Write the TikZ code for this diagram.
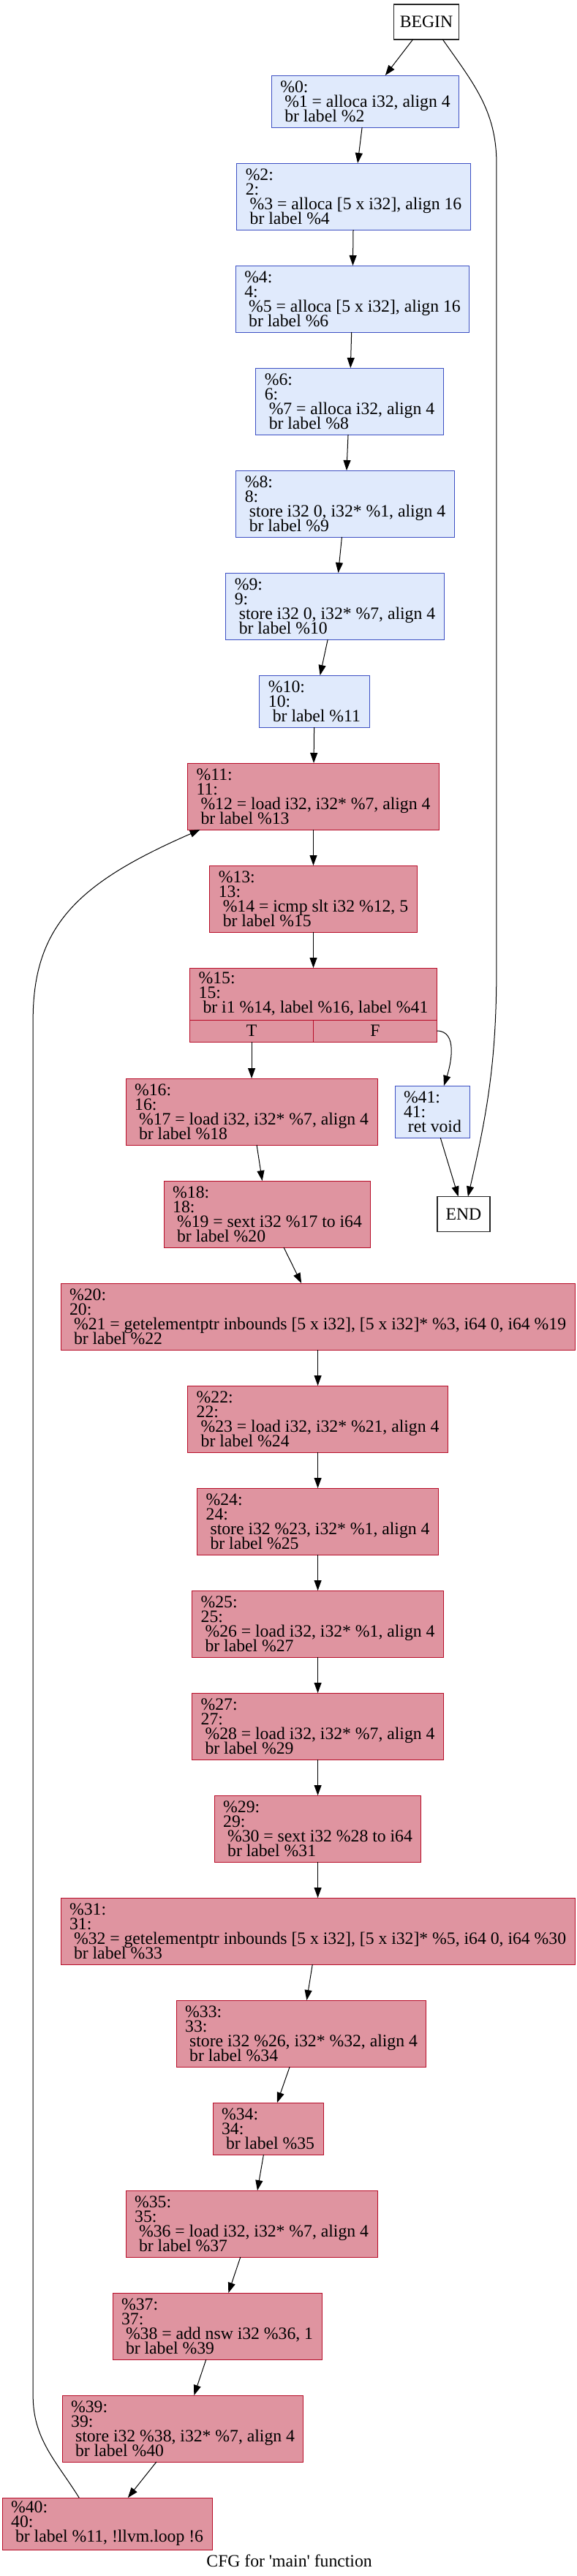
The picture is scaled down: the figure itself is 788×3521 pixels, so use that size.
\documentclass[tikz,border=0pt]{standalone}
\usepackage{fontspec}
\setmainfont{Liberation Serif}
\usetikzlibrary{arrows.meta, calc, positioning}
\definecolor{coldfill}{HTML}{E0EAFC}
\definecolor{coldline}{HTML}{3D50C3}
\definecolor{hotfill}{HTML}{DF94A0}
\definecolor{hotline}{HTML}{B70D28}
\newcommand{\cfgfont}{\fontsize{23.68pt}{20pt}\selectfont\lineskiplimit=-30pt\relax}
\tikzstyle{cold_block}=[rectangle, draw=coldline, fill=coldfill, line width=1pt, align=left,
   inner xsep=12pt, inner ysep=0pt, outer sep=0pt, font=\cfgfont]
\tikzstyle{hot_block}=[rectangle, draw=hotline, fill=hotfill, line width=1pt, align=left,
   inner xsep=12pt, inner ysep=0pt, outer sep=0pt, font=\cfgfont]
\tikzstyle{three_lines}=[minimum height=71pt]
\tikzstyle{four_lines}=[minimum height=91pt]
\tikzstyle{terminal}=[rectangle, draw=black!85, line width=1.2pt, fill=white, inner xsep=8pt,
   outer sep=0pt, minimum width=72pt, minimum height=48pt, font=\cfgfont]
\tikzstyle{cfg_edge}=[-{Triangle[length=14pt, width=10pt]}, line width=1pt]
\tikzstyle{caption_text}=[inner sep=0pt, font=\cfgfont]

\begin{document}
\begin{tikzpicture}[x=1pt, y=1pt]
\useasboundingbox (0,0) rectangle (788,-3521);

% entry
\node [terminal] (cfg_begin) at (583,-30) {BEGIN};

% cold blocks before the loop
\node [cold_block, three_lines] (bb_0)  [below=49pt of cfg_begin, xshift=-83.5pt]
    {\%0:\\~\%1 = alloca i32, align 4\\~br label \%2};
\node [cold_block, four_lines]  (bb_2)  [below=49pt of bb_0, xshift=-16pt]
    {\%2:\\2:\\~\%3 = alloca [5 x i32], align 16\\~br label \%4};
\node [cold_block, four_lines]  (bb_4)  [below=49pt of bb_2, xshift=-1.5pt]
    {\%4:\\4:\\~\%5 = alloca [5 x i32], align 16\\~br label \%6};
\node [cold_block, four_lines]  (bb_6)  [below=49pt of bb_4, xshift=-4pt]
    {\%6:\\6:\\~\%7 = alloca i32, align 4\\~br label \%8};
\node [cold_block, four_lines]  (bb_8)  [below=49pt of bb_6, xshift=-6pt]
    {\%8:\\8:\\~store i32 0, i32* \%1, align 4\\~br label \%9};
\node [cold_block, four_lines]  (bb_9)  [below=49pt of bb_8, xshift=-14pt]
    {\%9:\\9:\\~store i32 0, i32* \%7, align 4\\~br label \%10};
\node [cold_block, three_lines] (bb_10) [below=49pt of bb_9, xshift=-28pt]
    {\%10:\\10:\\~br label \%11};

% loop header
\node [hot_block, four_lines]   (bb_11) [below=49pt of bb_10, xshift=-1.5pt]
    {\%11:\\11:\\~\%12 = load i32, i32* \%7, align 4\\~br label \%13};
\node [hot_block, four_lines]   (bb_13) [below=49pt of bb_11]
    {\%13:\\13:\\~\%14 = icmp slt i32 \%12, 5\\~br label \%15};
\node [hot_block, three_lines]  (bb_15) [below=49pt of bb_13]
    {\%15:\\15:\\~br i1 \%14, label \%16, label \%41};

\path let
    \p1 = (bb_15.west),
    \p2 = (bb_15.east),
    \n1 = {(\x2-\x1)/2} in
    node [hot_block, minimum width=\n1, minimum height=30pt, inner sep=0pt] (bb_15_t)
         [below=0pt of bb_15.south west, anchor=north west] {T}
    node [hot_block, minimum width=\n1, minimum height=30pt, inner sep=0pt] (bb_15_f)
         [below=0pt of bb_15.south east, anchor=north east] {F};

% loop body
\node [hot_block, four_lines]   (bb_16) [below=50pt of bb_15_t]
    {\%16:\\16:\\~\%17 = load i32, i32* \%7, align 4\\~br label \%18};
\node [cold_block, three_lines] (bb_41) [right=24pt of bb_16]
    {\%41:\\41:\\~ret void};
\node [hot_block, four_lines]   (bb_18) [below=49pt of bb_16, xshift=21.5pt]
    {\%18:\\18:\\~\%19 = sext i32 \%17 to i64\\~br label \%20};
\node [terminal] (cfg_end) [right=91pt of bb_18] {END};
\node [hot_block, four_lines]   (bb_20) [below=49pt of bb_18, xshift=69pt]
    {\%20:\\20:\\~\%21 = getelementptr inbounds [5 x i32], [5 x i32]* \%3, i64 0, i64 \%19\\~br label \%22};
\node [hot_block, four_lines]   (bb_22) [below=49pt of bb_20]
    {\%22:\\22:\\~\%23 = load i32, i32* \%21, align 4\\~br label \%24};
\node [hot_block, four_lines]   (bb_24) [below=49pt of bb_22]
    {\%24:\\24:\\~store i32 \%23, i32* \%1, align 4\\~br label \%25};
\node [hot_block, four_lines]   (bb_25) [below=49pt of bb_24]
    {\%25:\\25:\\~\%26 = load i32, i32* \%1, align 4\\~br label \%27};
\node [hot_block, four_lines]   (bb_27) [below=49pt of bb_25]
    {\%27:\\27:\\~\%28 = load i32, i32* \%7, align 4\\~br label \%29};
\node [hot_block, four_lines]   (bb_29) [below=49pt of bb_27]
    {\%29:\\29:\\~\%30 = sext i32 \%28 to i64\\~br label \%31};
\node [hot_block, four_lines]   (bb_31) [below=49pt of bb_29]
    {\%31:\\31:\\~\%32 = getelementptr inbounds [5 x i32], [5 x i32]* \%5, i64 0, i64 \%30\\~br label \%33};
\node [hot_block, four_lines]   (bb_33) [below=49pt of bb_31, xshift=-22.5pt]
    {\%33:\\33:\\~store i32 \%26, i32* \%32, align 4\\~br label \%34};
\node [hot_block, three_lines]  (bb_34) [below=49pt of bb_33, xshift=-45.5pt]
    {\%34:\\34:\\~br label \%35};
\node [hot_block, four_lines]   (bb_35) [below=49pt of bb_34, xshift=-22.5pt]
    {\%35:\\35:\\~\%36 = load i32, i32* \%7, align 4\\~br label \%37};
\node [hot_block, four_lines]   (bb_37) [below=49pt of bb_35, xshift=-47pt]
    {\%37:\\37:\\~\%38 = add nsw i32 \%36, 1\\~br label \%39};
\node [hot_block, four_lines]   (bb_39) [below=49pt of bb_37, xshift=-47pt]
    {\%39:\\39:\\~store i32 \%38, i32* \%7, align 4\\~br label \%40};
\node [hot_block, three_lines]  (bb_40) [below=49pt of bb_39, xshift=-103.5pt]
    {\%40:\\40:\\~br label \%11, !llvm.loop !6};

\node [caption_text] (cfg_title) [below=7pt of bb_40, xshift=249pt]
    {CFG for \textquotesingle main\textquotesingle{} function};

% rails for the long edges
\coordinate (exit_rail_top) at ([xshift=45pt]cfg_end.center |- bb_2.north);
\coordinate (exit_rail_bot) at ([xshift=45pt]cfg_end.center |- bb_15.north);
\coordinate (loop_rail_bot) at ([xshift=42pt]bb_40.west |- bb_39.north);
\coordinate (loop_rail_top) at ([xshift=42pt]bb_40.west |- bb_15.south);

% straight flow
\draw [cfg_edge] (cfg_begin) -- (bb_0);
\draw [cfg_edge] (bb_0) -- (bb_2);
\draw [cfg_edge] (bb_2) -- (bb_4);
\draw [cfg_edge] (bb_4) -- (bb_6);
\draw [cfg_edge] (bb_6) -- (bb_8);
\draw [cfg_edge] (bb_8) -- (bb_9);
\draw [cfg_edge] (bb_9) -- (bb_10);
\draw [cfg_edge] (bb_10) -- (bb_11);
\draw [cfg_edge] (bb_11) -- (bb_13);
\draw [cfg_edge] (bb_13) -- (bb_15);
\draw [cfg_edge] (bb_15_t) -- (bb_16);
\draw [cfg_edge] (bb_16) -- (bb_18);
\draw [cfg_edge] (bb_18) -- (bb_20);
\draw [cfg_edge] (bb_20) -- (bb_22);
\draw [cfg_edge] (bb_22) -- (bb_24);
\draw [cfg_edge] (bb_24) -- (bb_25);
\draw [cfg_edge] (bb_25) -- (bb_27);
\draw [cfg_edge] (bb_27) -- (bb_29);
\draw [cfg_edge] (bb_29) -- (bb_31);
\draw [cfg_edge] (bb_31) -- (bb_33);
\draw [cfg_edge] (bb_33) -- (bb_34);
\draw [cfg_edge] (bb_34) -- (bb_35);
\draw [cfg_edge] (bb_35) -- (bb_37);
\draw [cfg_edge] (bb_37) -- (bb_39);
\draw [cfg_edge] (bb_39) -- (bb_40);
\draw [cfg_edge] (bb_41) -- (cfg_end);

% false branch and exits
\draw [cfg_edge] (bb_15_f.east) to[out=0, in=72] ([xshift=15.5pt]bb_41.north);
\draw [cfg_edge] (cfg_begin.-47.5) to[out=-55, in=90] (exit_rail_top)
    -- (exit_rail_bot) to[out=-90, in=77] ([xshift=6pt]cfg_end.north);

% back edge
\draw [cfg_edge] ([xshift=-38.4pt]bb_40.north) to[out=122, in=-90] (loop_rail_bot)
    -- (loop_rail_top) .. controls +(0,130) and +(-165,-72) .. ([xshift=17pt]bb_11.south west);

\end{tikzpicture}
\end{document}
